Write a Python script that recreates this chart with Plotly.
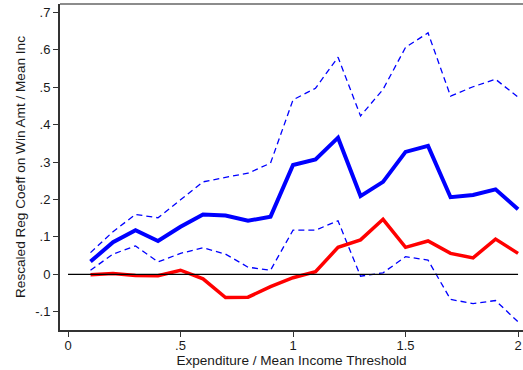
import plotly.graph_objects as go

threshold = [0.1, 0.2, 0.3, 0.4, 0.5, 0.6, 0.7, 0.8, 0.9, 1.0,
             1.1, 1.2, 1.3, 1.4, 1.5, 1.6, 1.7, 1.8, 1.9, 2.0]
coef_main = [0.034, 0.086, 0.118, 0.089, 0.127, 0.160, 0.157, 0.143, 0.154, 0.292,
             0.307, 0.365, 0.209, 0.247, 0.327, 0.343, 0.206, 0.212, 0.227, 0.174]
ci_upper = [0.058, 0.114, 0.160, 0.151, 0.199, 0.247, 0.259, 0.270, 0.297, 0.466,
            0.497, 0.580, 0.423, 0.494, 0.606, 0.645, 0.476, 0.501, 0.521, 0.473]
ci_lower = [0.011, 0.054, 0.076, 0.033, 0.056, 0.071, 0.054, 0.019, 0.011, 0.118,
            0.118, 0.143, -0.005, 0.004, 0.047, 0.038, -0.067, -0.078, -0.070, -0.127]
coef_red = [-0.001, 0.002, -0.003, -0.004, 0.011, -0.012, -0.062, -0.061, -0.033, -0.009,
            0.007, 0.072, 0.092, 0.147, 0.072, 0.089, 0.056, 0.044, 0.094, 0.056]
zero_x = [0, 2]
zero_y = [0, 0]

y_ticks = [-0.1, 0, 0.1, 0.2, 0.3, 0.4, 0.5, 0.6, 0.7]
y_ticktext = ["-.1", "0", ".1", ".2", ".3", ".4", ".5", ".6", ".7"]
x_ticks = [0, 0.5, 1, 1.5, 2]
x_ticktext = ["0", ".5", "1", "1.5", "2"]

tick_font = dict(family="Liberation Sans, Arial, sans-serif", size=13, color="#1a1a1a")
title_font = dict(family="Liberation Sans, Arial, sans-serif", size=13.6, color="#1a1a1a")

fig = go.Figure()
fig.add_trace(go.Scatter(x=threshold, y=ci_upper, mode="lines",
                         line=dict(color="#0000FF", width=1.3, dash="6px,4px"), showlegend=False))
fig.add_trace(go.Scatter(x=threshold, y=ci_lower, mode="lines",
                         line=dict(color="#0000FF", width=1.3, dash="6px,4px"), showlegend=False))
fig.add_trace(go.Scatter(x=threshold, y=coef_red, mode="lines",
                         line=dict(color="#FF0000", width=3.5), showlegend=False))
fig.add_trace(go.Scatter(x=zero_x, y=zero_y, mode="lines",
                         line=dict(color="#000000", width=1.4), showlegend=False))
fig.add_trace(go.Scatter(x=threshold, y=coef_main, mode="lines",
                         line=dict(color="#0000FF", width=4), showlegend=False))

fig.update_layout(
    width=523, height=370,
    margin=dict(l=60, r=0, t=4, b=40),
    paper_bgcolor="white", plot_bgcolor="white",
    font=tick_font,
    xaxis=dict(range=[-0.0356, 2.022], tickvals=x_ticks, ticktext=x_ticktext, automargin=False,
               showgrid=False, zeroline=False, showline=True, linecolor="#333333", linewidth=2,
               ticks="outside", ticklen=5, tickcolor="#333333", tickwidth=1, tickfont=tick_font,
               ticklabelstandoff=-3,
               title=dict(text="Expenditure / Mean Income Threshold", standoff=0, font=title_font)),
    yaxis=dict(range=[-0.1487, 0.722], tickvals=y_ticks, ticktext=y_ticktext, automargin=False,
               showgrid=False, zeroline=False, showline=True, linecolor="#333333", linewidth=2,
               ticks="outside", ticklen=5, tickcolor="#333333", tickwidth=1, tickfont=tick_font,
               title=dict(text="Rescaled Reg Coeff on Win Amt / Mean Inc", standoff=6, font=title_font)),
    shapes=[dict(type="line", xref="paper", yref="paper", x0=0, x1=1, y0=1, y1=1,
                 line=dict(color="#666666", width=1.5))],
)

fig.write_html("out.html", config={"displayModeBar": False},
               post_script="document.body.style.margin='0';document.body.style.overflow='hidden';")
